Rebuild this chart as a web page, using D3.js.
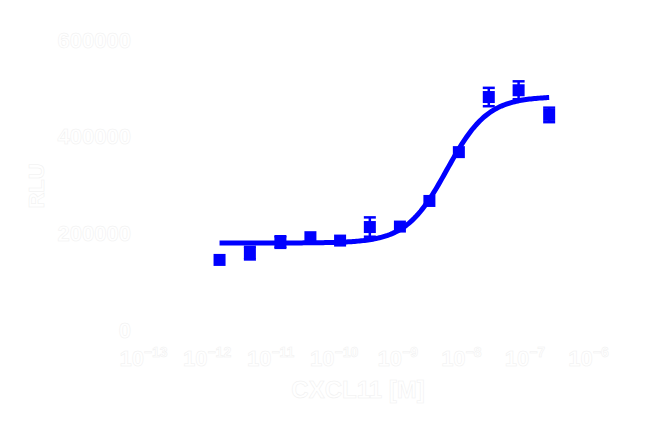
<!DOCTYPE html>
<html>
<head>
<meta charset="utf-8">
<script src="https://cdn.jsdelivr.net/npm/d3@7"></script>
<style>
  body { margin: 0; background: #fff; }
  text { font-family: "Liberation Sans", Arial, sans-serif; font-weight: bold; fill: #fff; stroke: #efefef; stroke-width: 0.5; }
</style>
</head>
<body>
<div id="chart"></div>
<script>
// concentrations (M) and responses
const conc = [1.6e-12, 4.8e-12, 1.45e-11, 4.3e-11, 1.26e-10, 3.7e-10, 1.1e-9, 3.2e-9, 9.3e-9, 2.75e-8, 8.1e-8, 2.45e-7];
const rlu  = [145000, 159000, 182000, 192000, 185000, 213000, 214000, 267000, 368000, 482000, 496000, 445000];
const sem  = [0, 13000, 12000, 0, 0, 20000, 0, 0, 0, 19000, 18500, 15000];

// fitted four-parameter logistic
const fit_bottom = 180000;
const fit_top = 483000;
const fit_logec50 = -8.22;
const fit_hill = 1.35;

const y_ticks = [0, 200000, 400000, 600000];
const x_ticks = [1e-13, 1e-12, 1e-11, 1e-10, 1e-9, 1e-8, 1e-7, 1e-6];

const width = 650, height = 426;
const blue = "#0000ff";

const svg = d3.select("#chart").append("svg")
  .attr("width", width)
  .attr("height", height);

svg.append("rect").attr("width", width).attr("height", height).attr("fill", "#fff");

const x = d3.scaleLog().domain([1e-13, 1e-6]).range([143, 588]);
const y = d3.scaleLinear().domain([0, 600000]).range([330, 40]);

// y axis
const yAxis = svg.append("g")
  .attr("transform", "translate(143,0)")
  .call(d3.axisLeft(y).tickValues(y_ticks).tickFormat(d3.format("d")).tickSize(6).tickPadding(6));
yAxis.selectAll("path, line").attr("stroke", "#fff");
yAxis.selectAll("text").style("font-size", "22px");

// x axis
const xAxis = svg.append("g")
  .attr("transform", "translate(0,338)")
  .call(d3.axisBottom(x).tickValues(x_ticks).tickSize(6).tickPadding(6));
xAxis.selectAll("path, line").attr("stroke", "#fff");
xAxis.selectAll("text")
  .style("font-size", "22px")
  .text("")
  .each(function(d) {
    const t = d3.select(this);
    t.append("tspan").text("10");
    t.append("tspan").attr("dy", "-9").style("font-size", "14px")
      .text("\u2212" + Math.round(-Math.log10(d)));
  });

// axis titles
svg.append("text")
  .attr("x", 358).attr("y", 398)
  .attr("text-anchor", "middle")
  .style("font-size", "24px")
  .text("CXCL11 [M]");

svg.append("text")
  .attr("transform", "translate(44,186) rotate(-90)")
  .attr("text-anchor", "middle")
  .style("font-size", "22px")
  .text("RLU");

// fitted curve
function logistic(c) {
  return fit_bottom + (fit_top - fit_bottom) / (1 + Math.pow(10, (fit_logec50 - Math.log10(c)) * fit_hill));
}
const lx0 = Math.log10(conc[0]), lx1 = Math.log10(conc[conc.length - 1]);
const curve = d3.range(0, 201).map(i => Math.pow(10, lx0 + (lx1 - lx0) * i / 200));

svg.append("path")
  .datum(curve)
  .attr("fill", "none")
  .attr("stroke", blue)
  .attr("stroke-width", 5)
  .attr("d", d3.line().x(c => x(c)).y(c => y(logistic(c))));

// points with error bars
const pts = conc.map((c, i) => ({ c: c, v: rlu[i], e: sem[i] }));
const g = svg.append("g").attr("stroke", blue).attr("stroke-width", 2.5);

pts.filter(d => d.e > 0).forEach(d => {
  const cx = x(d.c);
  g.append("line").attr("x1", cx).attr("x2", cx).attr("y1", y(d.v - d.e)).attr("y2", y(d.v + d.e));
  g.append("line").attr("x1", cx - 6).attr("x2", cx + 6).attr("y1", y(d.v + d.e)).attr("y2", y(d.v + d.e));
  g.append("line").attr("x1", cx - 6).attr("x2", cx + 6).attr("y1", y(d.v - d.e)).attr("y2", y(d.v - d.e));
});

svg.append("g").selectAll("rect")
  .data(pts)
  .enter().append("rect")
    .attr("x", d => x(d.c) - 6)
    .attr("y", d => y(d.v) - 6)
    .attr("width", 12)
    .attr("height", 12)
    .attr("fill", blue);
</script>
</body>
</html>
